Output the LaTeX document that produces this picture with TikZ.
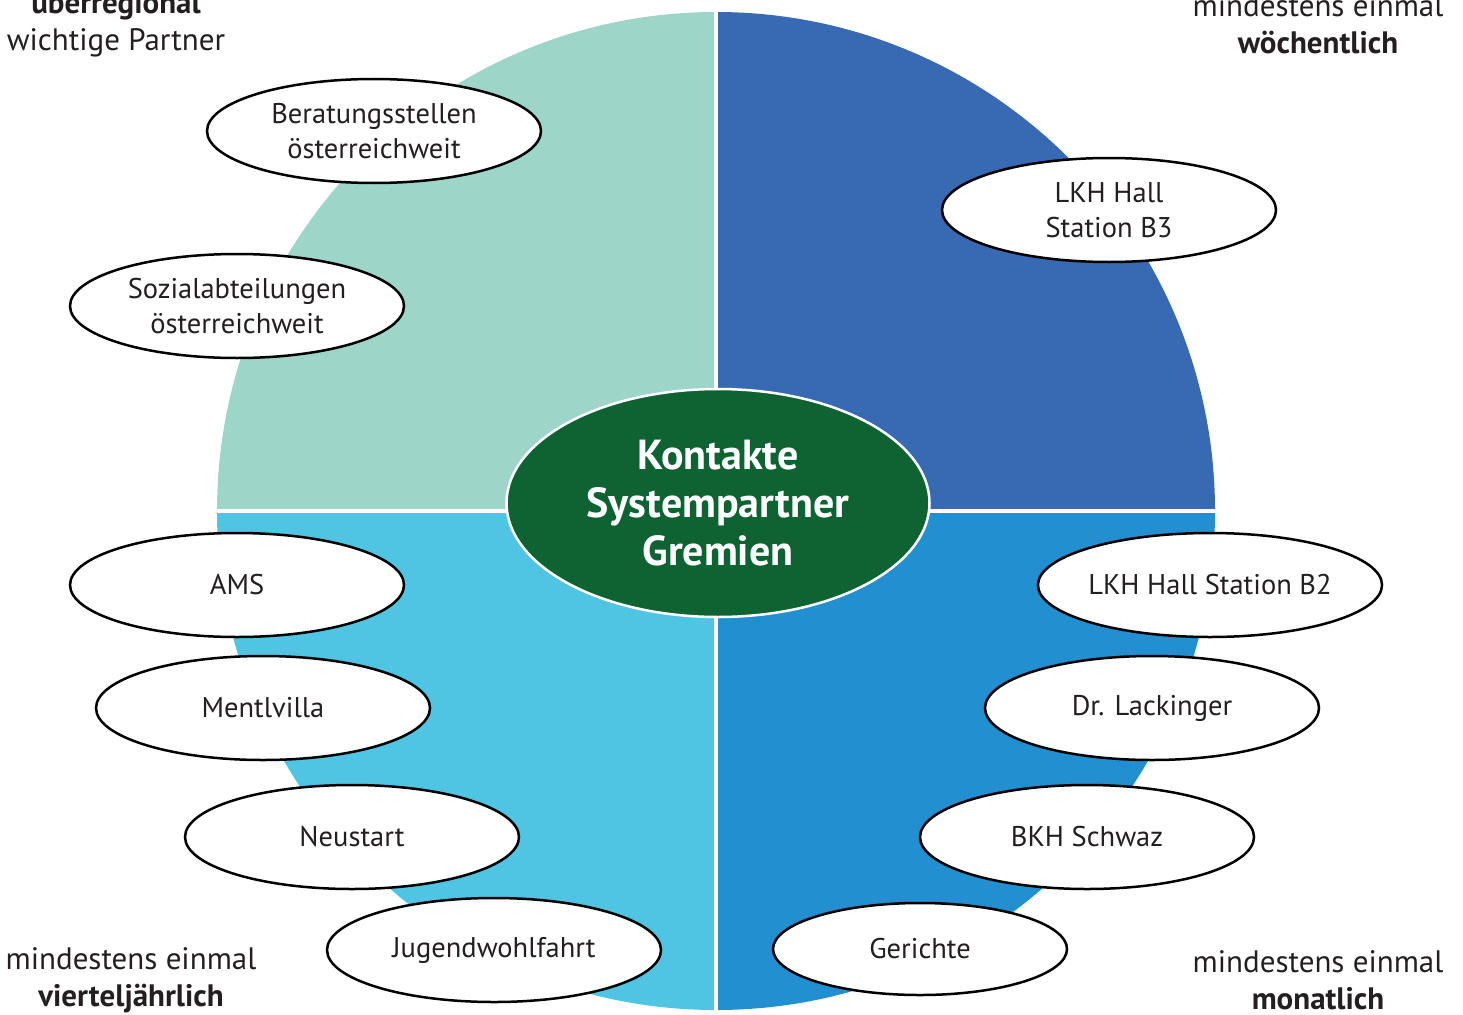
\documentclass[tikz,border=0pt]{standalone}
\usepackage{fontspec}
\setmainfont{PT Sans}
\usetikzlibrary{shapes.geometric}
\definecolor{qtl}{HTML}{9DD5C9}
\definecolor{qtr}{HTML}{3869B3}
\definecolor{qbl}{HTML}{4FC4E3}
\definecolor{qbr}{HTML}{2290D0}
\definecolor{cgreen}{HTML}{0F6333}
\definecolor{txt}{HTML}{231F20}
\tikzset{
  partner/.style={ellipse, draw=black, line width=2.5pt, fill=white, inner sep=0pt,
    minimum width=334pt, minimum height=104pt, align=center, text=txt,
    font=\fontsize{28.5}{35}\selectfont},
  corner/.style={align=center, text=txt, inner sep=0pt, font=\fontsize{31}{37}\selectfont},
  hub/.style={ellipse, draw=white, line width=2.5pt, fill=cgreen, inner sep=0pt,
    minimum width=423pt, minimum height=228pt, align=center, text=white,
    font=\bfseries\fontsize{42}{48}\selectfont}
}
\begin{document}
\begin{tikzpicture}[x=1pt,y=-1pt]
\useasboundingbox (0,0) rectangle (1463,1014);
\fill[qbr] (716,511) -- ++(499,0) arc[start angle=0,end angle=90,radius=499] -- cycle;
\fill[qbl] (716,511) -- ++(0,499) arc[start angle=90,end angle=180,radius=499] -- cycle;
\fill[qtl] (716,511) -- ++(-499,0) arc[start angle=180,end angle=270,radius=499] -- cycle;
\fill[qtr] (716,511) -- ++(0,-499) arc[start angle=270,end angle=360,radius=499] -- cycle;
\draw[white, line width=4pt] (716,8) -- (716,1014);
\draw[white, line width=4pt] (212,511) -- (1220,511);

\node[hub] (hub) at (718,503) {Kontakte\\Systempartner\\Gremien};

\node[partner] (berat) at (374,131) {Beratungsstellen\\österreichweit};
\node[partner] (sozial) at (237,306) {Sozialabteilungen\\österreichweit};
\node[partner] (lkhb3) at (1109,210) {LKH Hall\\Station B3};
\node[partner] (ams) at (237,585) {AMS};
\node[partner] (mentl) at (263,708) {Mentlvilla};
\node[partner] (neu) at (352,837) {Neustart};
\node[partner] (jugend) at (494,950) {Jugendwohlfahrt};
\node[partner] (lkhb2) at (1210,585) {LKH Hall Station B2};
\node[partner] (lack) at (1152,708) {Dr. Lackinger};
\node[partner] (bkh) at (1087,837) {BKH Schwaz};
\node[partner, minimum width=294pt, minimum height=92pt] (ger) at (920,949) {Gerichte};

\node[corner] (ctl) at (116,24) {\textbf{überregional}\\wichtige Partner};
\node[corner] (ctr) at (1318,24) {mindestens einmal\\\textbf{wöchentlich}};
\node[corner] (cbl) at (131,980) {mindestens einmal\\\textbf{vierteljährlich}};
\node[corner] (cbr) at (1318,980) {mindestens einmal\\\textbf{monatlich}};
\end{tikzpicture}
\end{document}
